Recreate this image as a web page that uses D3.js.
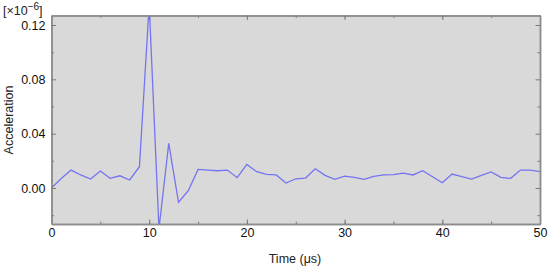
<!DOCTYPE html>
<html>
<head>
<meta charset="utf-8">
<script src="https://cdn.jsdelivr.net/npm/d3@7"></script>
<style>
  body { margin: 0; background: #fff; }
  text { font-family: "Liberation Sans", Arial, sans-serif; }
</style>
</head>
<body>
<svg id="chart" width="550" height="272"></svg>
<script>
// time in microseconds
var times = d3.range(0, 51);
// acceleration (x10^-6)
var accel = [0.000, 0.007, 0.0132, 0.0096, 0.0066, 0.0125, 0.0071, 0.0090, 0.0059, 0.0157,
             0.135, -0.030, 0.0329, -0.0105, -0.002, 0.0137, 0.0132, 0.0127, 0.0132, 0.0076,
             0.0174, 0.0120, 0.0100, 0.0096, 0.0037, 0.0068, 0.0073, 0.0142, 0.0093, 0.0064,
             0.0088, 0.0078, 0.0064, 0.0086, 0.0096, 0.0098, 0.0110, 0.0096, 0.0127, 0.0083,
             0.0039, 0.0103, 0.0083, 0.0066, 0.0093, 0.0118, 0.0078, 0.0071, 0.0132, 0.0132,
             0.0120];
var xTicks = [0, 10, 20, 30, 40, 50];
var yTicks = [0.00, 0.04, 0.08, 0.12];

var svg = d3.select("#chart");
var pL = 51.5, pR = 540, pT = 15.5, pB = 224;

var x = d3.scaleLinear().domain([0, 50]).range([pL, pR]);
var y = d3.scaleLinear().domain([-0.0265, 0.127]).range([pB, pT]);

svg.append("rect")
    .attr("x", pL).attr("y", pT)
    .attr("width", pR - pL).attr("height", pB - pT)
    .attr("fill", "#d9d9d9");

svg.append("clipPath").attr("id", "clip")
  .append("rect")
    .attr("x", pL).attr("y", pT)
    .attr("width", pR - pL).attr("height", pB - pT);

var line = d3.line()
    .x(function(d, i) { return x(times[i]); })
    .y(function(d) { return y(d); });

svg.append("path")
    .datum(accel)
    .attr("clip-path", "url(#clip)")
    .attr("d", line)
    .attr("fill", "none")
    .attr("stroke", "#7474f2")
    .attr("stroke-width", 1.3);

// frame axes, ticks pointing inward
var minorX = d3.range(0, 51, 5), minorY = [-0.02, 0.02, 0.06, 0.10];
function frameAxis(axisFn, scale, ticks, minor, tf, labels) {
    var g = svg.append("g").attr("transform", tf);
    g.append("g").call(axisFn(scale).tickValues(minor).tickSize(-2.5).tickSizeOuter(0).tickFormat(""));
    g.append("g").call(axisFn(scale).tickValues(ticks).tickSize(-4.5).tickSizeOuter(0)
        .tickFormat(labels ? d3.format(labels) : ""));
    g.selectAll(".domain").attr("stroke", "#8c8c8c").attr("stroke-width", 1.5);
    g.selectAll(".tick line").attr("stroke", "#7a7a7a");
    g.selectAll(".tick text").attr("fill", "#111").attr("font-size", 12.5);
    return g;
}
var gx = frameAxis(d3.axisBottom, x, xTicks, minorX, "translate(0," + pB + ")", "d");
gx.selectAll(".tick text").attr("y", 4);
frameAxis(d3.axisTop, x, xTicks, minorX, "translate(0," + pT + ")", null);
var gy = frameAxis(d3.axisLeft, y, yTicks, minorY, "translate(" + pL + ",0)", ".2f");
gy.selectAll(".tick text").attr("x", -6);
frameAxis(d3.axisRight, y, yTicks, minorY, "translate(" + pR + ",0)", null);

svg.append("text")
    .attr("x", 295).attr("y", 263)
    .attr("text-anchor", "middle")
    .attr("font-size", 12.5).attr("fill", "#222")
    .text("Time (\u03bcs)");

svg.append("text")
    .attr("transform", "translate(13,120) rotate(-90)")
    .attr("text-anchor", "middle")
    .attr("font-size", 12.5).attr("fill", "#222")
    .text("Acceleration");

var mult = svg.append("text").attr("x", 3).attr("y", 15)
    .attr("font-size", 12.5).attr("fill", "#222");
mult.append("tspan").text("[\u00d710");
mult.append("tspan").attr("dy", -5).attr("font-size", 10).text("\u22126");
mult.append("tspan").attr("dy", 5).text("]");
</script>
</body>
</html>
